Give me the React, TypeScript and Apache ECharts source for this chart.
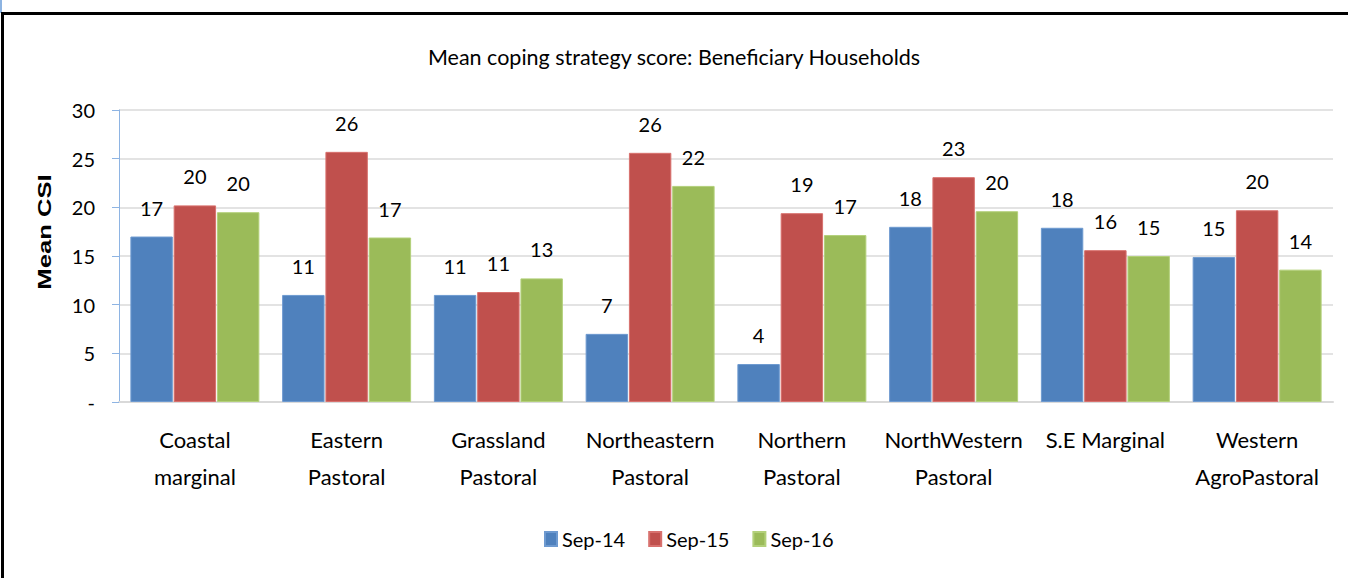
import React, { useEffect, useRef } from "react";
import * as echarts from "echarts";

const categories = [
  "Coastal\nmarginal",
  "Eastern\nPastoral",
  "Grassland\nPastoral",
  "Northeastern\nPastoral",
  "Northern\nPastoral",
  "NorthWestern\nPastoral",
  "S.E Marginal",
  "Western\nAgroPastoral",
];
const seriesNames = ["Sep-14", "Sep-15", "Sep-16"];
const sep14 = [17.0, 11.0, 11.0, 7.0, 3.9, 18.0, 17.9, 14.9];
const sep15 = [20.2, 25.7, 11.3, 25.6, 19.4, 23.1, 15.6, 19.7];
const sep16 = [19.5, 16.9, 12.7, 22.2, 17.15, 19.6, 15.0, 13.6];
const colors = ["#4F81BD", "#C0504D", "#9BBB59"];
const borders = ["#6E9AD0", "#D8716E", "#B3D07A"];
const titleText = "Mean coping strategy score: Beneficiary Households";
const yAxisName = "Mean CSI";

const FONT = "Lato, 'Open Sans', sans-serif";

export default function App() {
  const ref = useRef<HTMLDivElement>(null);
  useEffect(() => {
    if (!ref.current) return;
    const chart = echarts.init(ref.current, undefined, { renderer: "svg" });
    const allData = [sep14, sep15, sep16];
    chart.setOption({
      animation: false,
      backgroundColor: "#ffffff",
      textStyle: { fontFamily: FONT },
      title: {
        text: titleText,
        left: "center",
        top: 41,
        textStyle: { fontFamily: FONT, fontSize: 21.5, fontWeight: "normal", color: "#000" },
      },
      legend: {
        data: seriesNames,
        top: 524,
        left: 539,
        itemWidth: 12,
        itemHeight: 14,
        itemGap: 23,
        icon: "rect",
        textStyle: { fontFamily: FONT, fontSize: 20, color: "#000" },
      },
      grid: { left: 119, right: 15, top: 110, bottom: 176, containLabel: false },
      xAxis: {
        type: "category",
        data: categories,
        axisTick: { show: false },
        axisLine: { show: true, lineStyle: { color: "#D9D9D9", width: 2 } },
        axisLabel: {
          interval: 0,
          margin: 19,
          fontFamily: FONT,
          fontSize: 22,
          lineHeight: 37,
          color: "#000",
        },
      },
      yAxis: {
        type: "value",
        min: 0,
        max: 30,
        interval: 5,
        axisLine: { show: true, lineStyle: { color: "#8EB4E3", width: 1 } },
        axisTick: { show: true, inside: false, length: 7, lineStyle: { color: "#8EB4E3" } },
        axisLabel: {
          margin: 24,
          fontFamily: FONT,
          fontSize: 20,
          color: "#000",
          formatter: (v: number) => (v === 0 ? "-" : String(v)),
        },
        splitLine: { show: true, lineStyle: { color: "#E3E3E3", width: 2 } },
      },
      series: seriesNames.map((name, i) => ({
        name,
        type: "bar",
        data: allData[i],
        barGap: "2%",
        barCategoryGap: "15%",
        itemStyle: { color: colors[i], borderColor: borders[i], borderWidth: 1 },
        label: {
          show: true,
          position: "top",
          distance: 19,
          fontFamily: FONT,
          fontSize: 20,
          color: "#000",
          formatter: (p: any) => String(Math.round(p.value)),
        },
      })),
      graphic: [
        { type: "rect", shape: { x: 0, y: 0, width: 2, height: 13 }, style: { fill: "#8DB4E2" }, silent: true },
        { type: "rect", shape: { x: 1, y: 12, width: 1347, height: 3 }, style: { fill: "#000" }, silent: true },
        { type: "rect", shape: { x: 1, y: 12, width: 3, height: 566 }, style: { fill: "#000" }, silent: true },
        {
          type: "text",
          x: 45,
          y: 232,
          rotation: Math.PI / 2,
          scaleX: 1.35,
          scaleY: 1,
          silent: true,
          style: {
            text: yAxisName,
            font: "bold 19px 'Liberation Sans', Arial, sans-serif",
            fill: "#000",
            textAlign: "center",
            textVerticalAlign: "middle",
          },
        },
      ],
    });
    return () => chart.dispose();
  }, []);
  return (
    <div
      ref={ref}
      style={{ position: "fixed", left: 0, top: 0, width: 1348, height: 578, background: "#fff" }}
    />
  );
}
